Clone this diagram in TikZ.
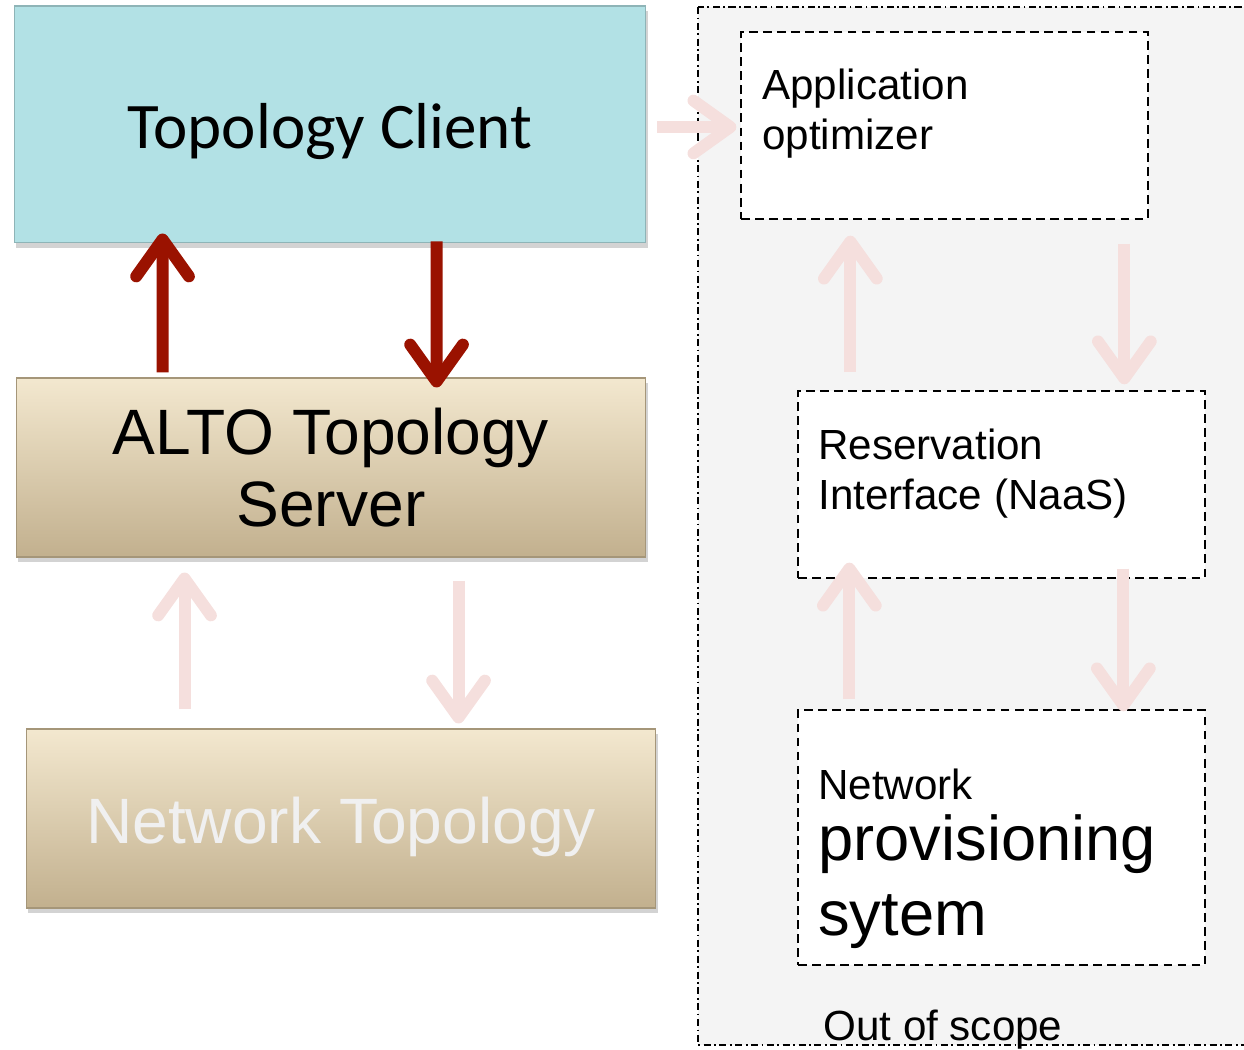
\documentclass[tikz,border=0pt]{standalone}
\usepackage{fontspec}
\setmainfont{Liberation Sans}
\newfontfamily\calibrifont{Carlito}
\usetikzlibrary{arrows.meta,calc,shadows}
\definecolor{clientteal}{HTML}{B2E1E5}
\definecolor{tantop}{HTML}{F3E8CF}
\definecolor{tanbottom}{HTML}{C2B08E}
\definecolor{altored}{HTML}{9A1200}
\definecolor{fadepink}{HTML}{F5DFDD}
\definecolor{scopegray}{HTML}{F4F4F4}
\tikzset{
  solidbox/.style={minimum width=12.6cm, minimum height=3.58cm, line width=0.6pt,
    drop shadow={shadow xshift=1pt, shadow yshift=-3pt, opacity=0.35}},
  tanbox/.style={solidbox, draw=tanbottom!85!black, top color=tantop, bottom color=tanbottom},
  scopebox/.style={draw, fill=white, dash pattern=on 5pt off 3pt, line width=0.8pt,
    minimum width=8.14cm},
  scopetext/.style={anchor=north west, inner sep=0pt, align=left},
  bigarrow/.style={line width=6.8pt, -{Straight Barb[length=21pt,width=30pt,round]}},
  redarrow/.style={bigarrow, draw=altored},
  pinkarrow/.style={bigarrow, draw=fadepink}
}
\begin{document}
\begin{tikzpicture}[x=0.02cm, y=-0.02cm]
\useasboundingbox (0,0) rectangle (1244,1050);
% out of scope region
\draw[fill=scopegray, line width=0.7pt, dash pattern=on 4pt off 2pt on 1pt off 2pt]
  (698,7) rectangle (1260,1045);
\node[anchor=base west, inner sep=0pt, font=\fontsize{24}{29}\selectfont] (scope) at (823,1040) {Out of scope};
% left stack
\node[solidbox, draw=clientteal!80!black, fill=clientteal, minimum width=12.64cm, minimum height=4.74cm,
  font=\calibrifont\fontsize{37}{44}\selectfont, text height=1.2cm] (client) at (330,124.5) {Topology Client};
\node[tanbox, align=center, font=\fontsize{36.5}{41}\selectfont] (server) at (331,467.5) {ALTO Topology\\Server};
\node[tanbox, text=white!94!black, font=\fontsize{36.5}{42}\selectfont, text height=1.26cm] (netw) at (341,818.5) {Network Topology};
% right stack
\node[scopebox, minimum height=3.74cm] (app) at (944.5,125.5) {};
\node[scopebox, minimum height=3.74cm] (resv) at (1001.5,484.5) {};
\node[scopebox, minimum height=5.1cm] (prov) at (1001.5,837.5) {};
\node[scopetext, font=\fontsize{24}{28.4}\selectfont] (apptext) at (762,69) {Application\\optimizer};
\node[scopetext, font=\fontsize{24}{28.4}\selectfont] (resvtext) at (818,429) {Reservation\\Interface (NaaS)};
\node[scopetext, font=\fontsize{36}{42.5}\selectfont] (provtext) at (818,769)
  {{\fontsize{24}{28}\selectfont Network}\\[-8pt]provisioning\\sytem};
% arrows
\draw[redarrow] ($(server.north west)+(147,-5)$) -- ($(client.south west)+(149,-10)$);
\draw[redarrow] ($(client.south west)+(423,-2)$) -- ($(server.north west)+(421,10)$);
\draw[pinkarrow] ($(client.east)+(11,2.5)$) -- ($(app.west)+(-4,1.5)$);
\draw[pinkarrow] ($(resv.north west)+(53,-18)$) -- ($(app.south west)+(110,16)$);
\draw[pinkarrow] ($(app.south west)+(384,24)$) -- ($(resv.north west)+(327,-6)$);
\draw[pinkarrow] ($(prov.north west)+(52,-10)$) -- ($(resv.south west)+(52,-16)$);
\draw[pinkarrow] ($(resv.south west)+(326,-10)$) -- ($(prov.north west)+(326,2)$);
\draw[pinkarrow] ($(netw.north west)+(159,-19)$) -- ($(server.south west)+(169,15)$);
\draw[pinkarrow] ($(server.south west)+(443,23)$) -- ($(netw.north west)+(433,-5)$);
\end{tikzpicture}
\end{document}
